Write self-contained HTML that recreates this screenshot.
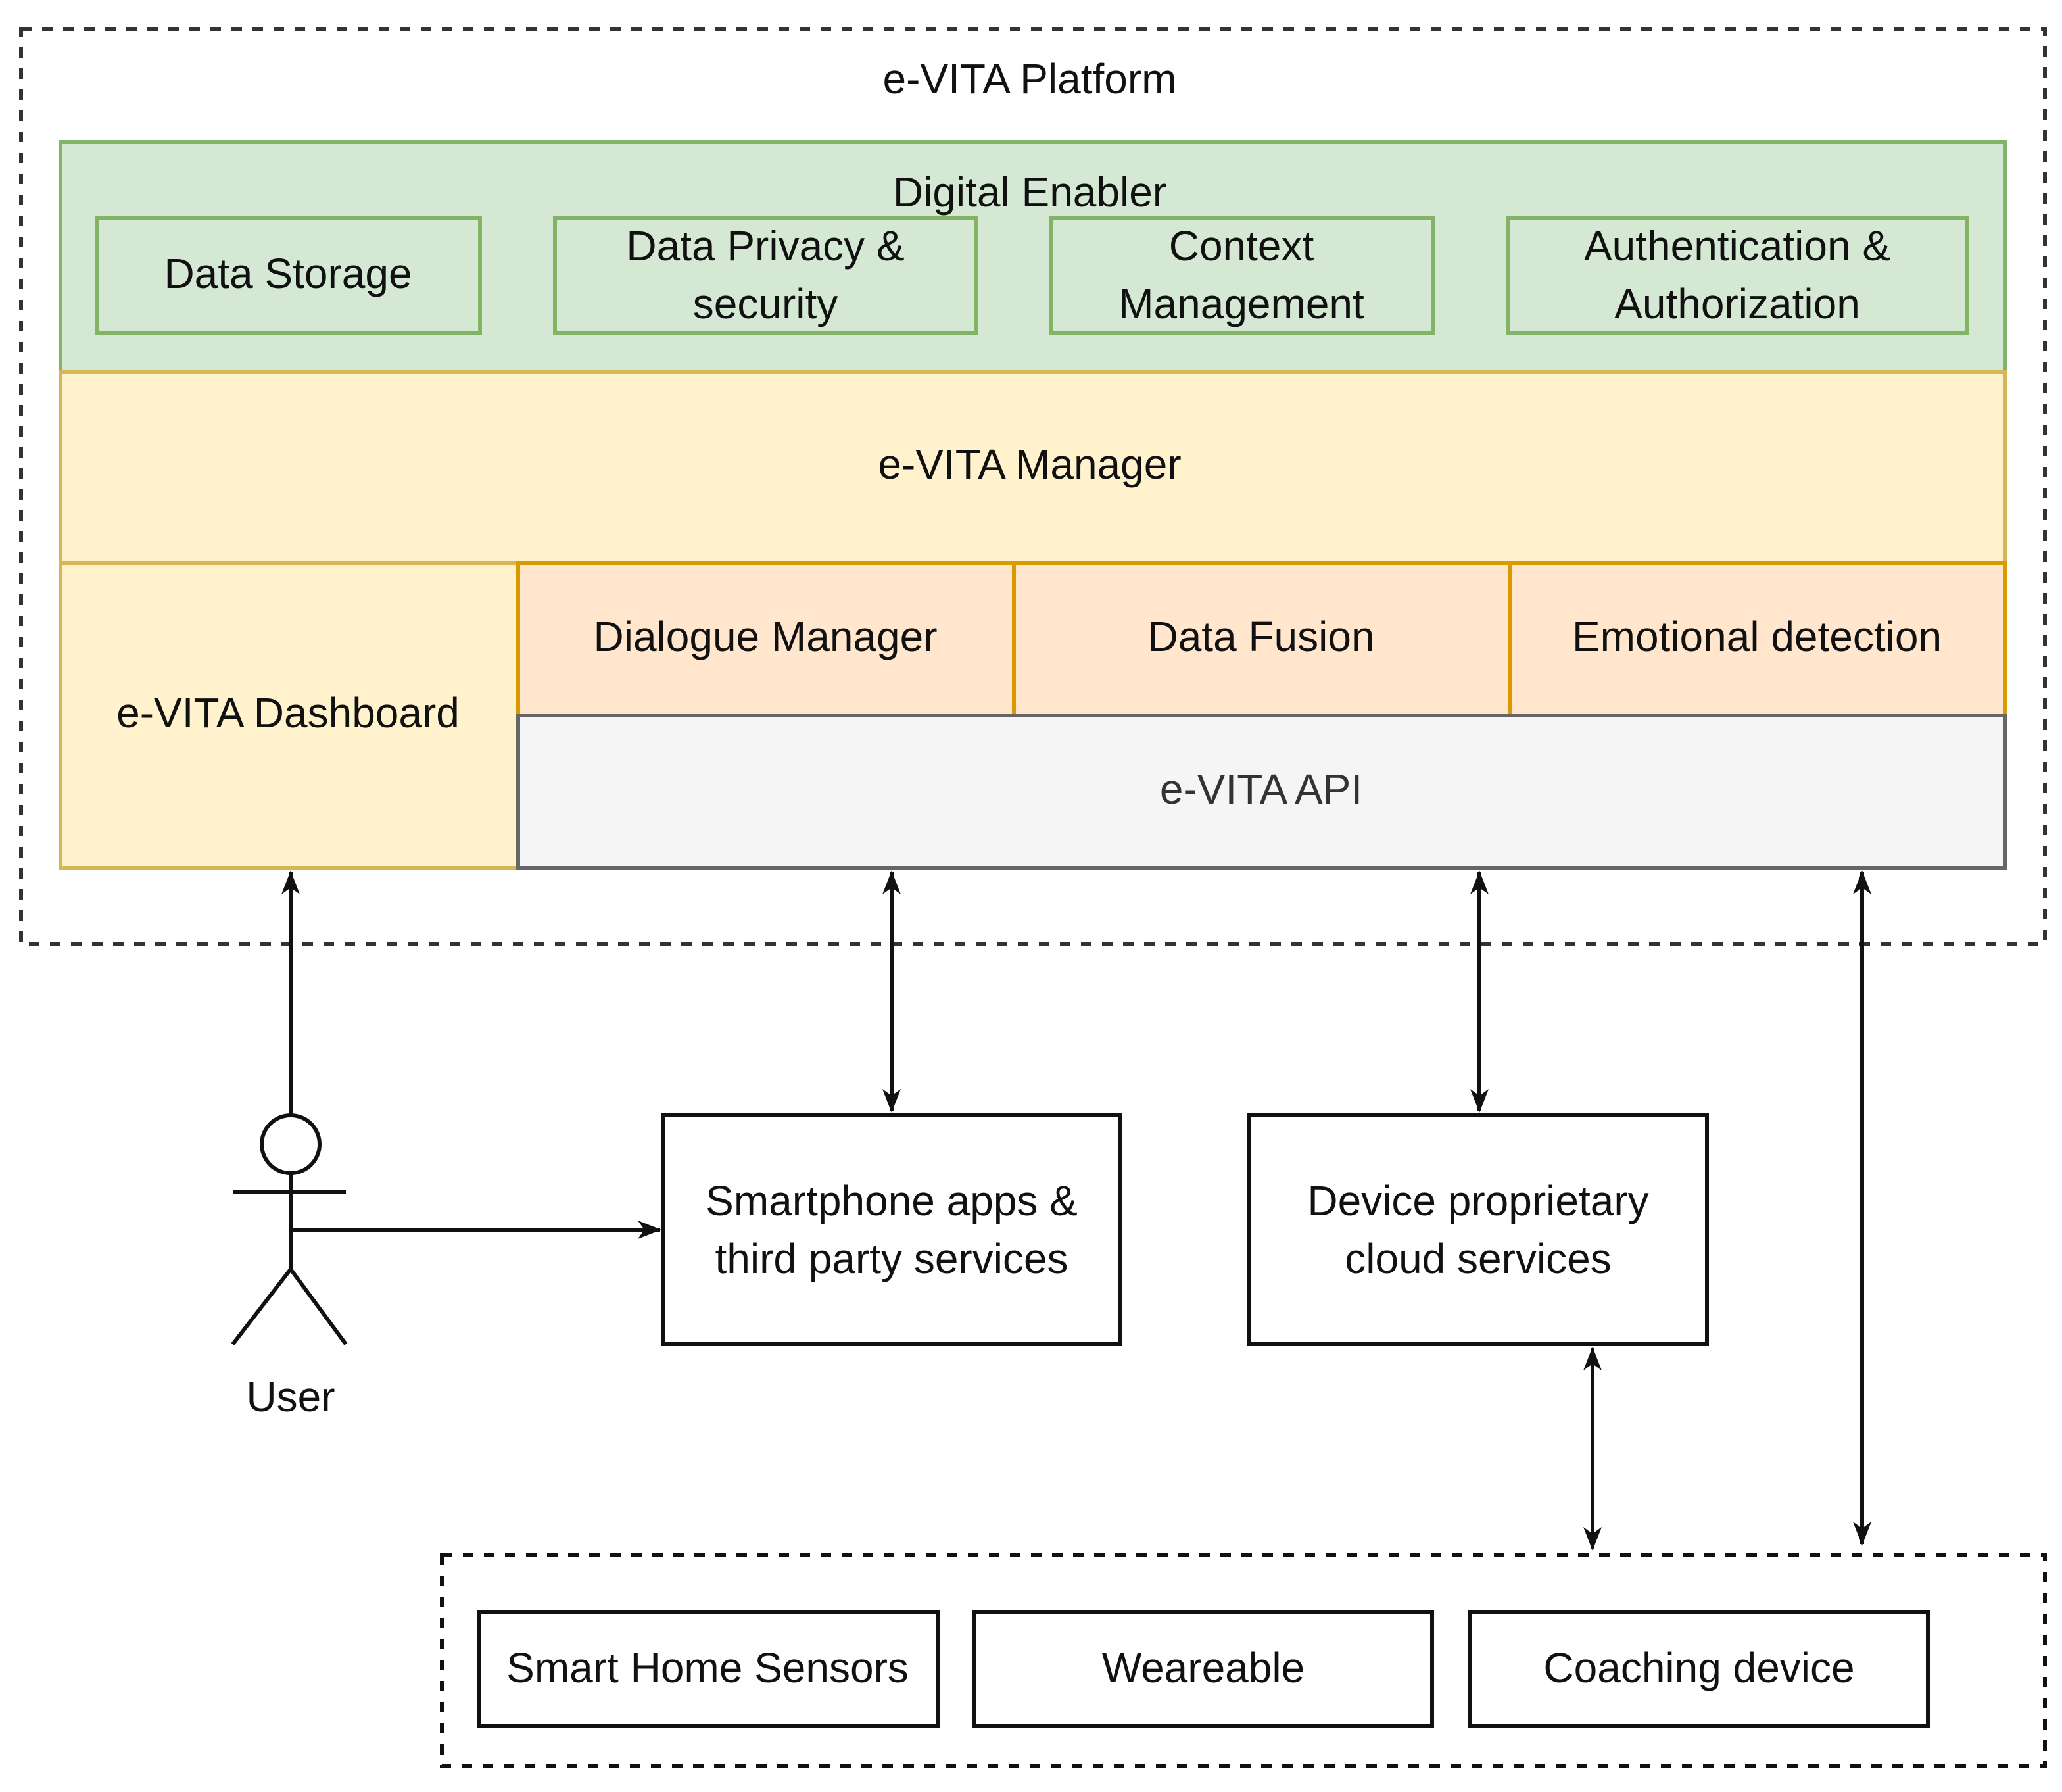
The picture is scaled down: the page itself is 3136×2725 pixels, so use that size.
<!DOCTYPE html>
<html><head><meta charset="utf-8"><style>html,body{margin:0;padding:0;background:#fff}</style></head>
<body>
<svg xmlns="http://www.w3.org/2000/svg" width="3136" height="2720" viewBox="0 0 1568 1360" font-family="Liberation Sans, sans-serif" font-size="32" text-anchor="middle" fill="#111">
<defs>
<marker id="a" markerWidth="18" markerHeight="18" refX="17" refY="9" orient="auto-start-reverse" markerUnits="userSpaceOnUse" viewBox="0 0 18 18">
<path d="M0,2 L18,9 L0,16 L5,9 z" fill="#111"/></marker>
</defs>
<rect x="16" y="22" width="1539" height="696" fill="none" stroke="#333" stroke-width="3" stroke-dasharray="8,8"/>
<text x="783" y="71">e-VITA Platform</text>
<rect x="46" y="108" width="1479" height="175" fill="#d5e8d4" stroke="#82b366" stroke-width="3"/>
<text x="783" y="157">Digital Enabler</text>
<g fill="#d5e8d4" stroke="#82b366" stroke-width="3">
<rect x="74" y="166" width="291" height="87"/>
<rect x="422" y="166" width="320" height="87"/>
<rect x="799" y="166" width="291" height="87"/>
<rect x="1147" y="166" width="349" height="87"/>
</g>
<text x="219" y="219">Data Storage</text>
<text x="582" y="198">Data Privacy &amp;</text><text x="582" y="242">security</text>
<text x="944" y="198">Context</text><text x="944" y="242">Management</text>
<text x="1321" y="198">Authentication &amp;</text><text x="1321" y="242">Authorization</text>
<rect x="46" y="283" width="1479" height="145" fill="#fff2cc" stroke="#d6b656" stroke-width="3"/>
<text x="783" y="364">e-VITA Manager</text>
<rect x="46" y="428" width="348" height="232" fill="#fff2cc" stroke="#d6b656" stroke-width="3"/>
<text x="219" y="553">e-VITA Dashboard</text>
<g fill="#ffe6cc" stroke="#d79b00" stroke-width="3">
<rect x="394" y="428" width="377" height="116"/>
<rect x="771" y="428" width="377" height="116"/>
<rect x="1148" y="428" width="377" height="116"/>
</g>
<text x="582" y="495">Dialogue Manager</text>
<text x="959" y="495">Data Fusion</text>
<text x="1336" y="495">Emotional detection</text>
<rect x="394" y="544" width="1131" height="116" fill="#f5f5f5" stroke="#666" stroke-width="3"/>
<text x="959" y="611" fill="#333">e-VITA API</text>
<g stroke="#111" stroke-width="3" fill="none">
<line x1="221" y1="848" x2="221" y2="663" marker-end="url(#a)"/>
<line x1="678" y1="663" x2="678" y2="845" marker-start="url(#a)" marker-end="url(#a)"/>
<line x1="1125" y1="663" x2="1125" y2="845" marker-start="url(#a)" marker-end="url(#a)"/>
<line x1="1416" y1="663" x2="1416" y2="1174" marker-start="url(#a)" marker-end="url(#a)"/>
<line x1="1211" y1="1025" x2="1211" y2="1178" marker-start="url(#a)" marker-end="url(#a)"/>
<line x1="221" y1="935" x2="502" y2="935" marker-end="url(#a)"/>
<circle cx="221" cy="870" r="22"/>
<line x1="221" y1="892" x2="221" y2="965"/>
<line x1="177" y1="906" x2="263" y2="906"/>
<polyline points="177,1022 221,965 263,1022"/>
<rect x="504" y="848" width="348" height="174"/>
<rect x="950" y="848" width="348" height="174"/>
<rect x="336" y="1182" width="1219" height="161" stroke-dasharray="8,8"/>
<rect x="364" y="1226" width="349" height="86"/>
<rect x="741" y="1226" width="348" height="86"/>
<rect x="1118" y="1226" width="348" height="86"/>
</g>
<text x="221" y="1073">User</text>
<text x="678" y="924">Smartphone apps &amp;</text><text x="678" y="968">third party services</text>
<text x="1124" y="924">Device proprietary</text><text x="1124" y="968">cloud services</text>
<text x="538" y="1279">Smart Home Sensors</text>
<text x="915" y="1279">Weareable</text>
<text x="1292" y="1279">Coaching device</text>
</svg>
</body></html>
